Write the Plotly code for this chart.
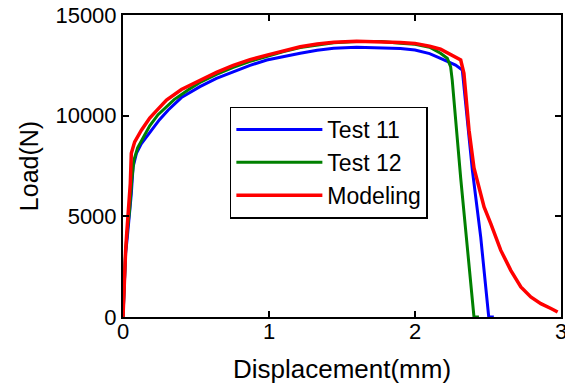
import plotly.graph_objects as go

# Test 11 (blue)
x_test11 = [0, 0.008, 0.018, 0.03, 0.041, 0.057, 0.069, 0.092, 0.125, 0.16, 0.2, 0.25, 0.31, 0.4,
            0.527, 0.64, 0.755, 0.87, 0.985, 1.1, 1.214, 1.33, 1.443, 1.6, 1.77, 1.9, 2.0, 2.1,
            2.175, 2.278, 2.324, 2.393, 2.45, 2.505, 2.54]
y_test11 = [0, 1500, 3170, 4000, 4810, 6130, 7460, 8130, 8600, 8950, 9350, 9800, 10280, 10900,
            11440, 11850, 12180, 12500, 12765, 12950, 13100, 13250, 13350, 13400, 13376, 13330,
            13260, 13080, 12850, 12516, 12270, 7290, 3980, 0, 0]

# Test 12 (green)
x_test12 = [0, 0.008, 0.018, 0.03, 0.045, 0.06, 0.075, 0.1, 0.14, 0.183, 0.24, 0.275, 0.35, 0.45,
            0.527, 0.64, 0.755, 0.87, 0.985, 1.1, 1.214, 1.33, 1.443, 1.6, 1.77, 1.9, 2.0, 2.1,
            2.175, 2.221, 2.244, 2.255, 2.313, 2.404, 2.438]
y_test12 = [0, 1800, 3300, 4300, 5300, 6800, 7800, 8400, 8950, 9500, 10050, 10300, 10800, 11300,
            11650, 12050, 12400, 12700, 12950, 13180, 13380, 13520, 13620, 13680, 13680, 13600,
            13545, 13400, 13100, 12850, 12430, 11770, 6900, 0, 0]

# Modeling (red)
x_model = [0, 0.008, 0.018, 0.026, 0.034, 0.05, 0.057, 0.08, 0.126, 0.183, 0.23, 0.298, 0.4, 0.527,
           0.64, 0.755, 0.87, 0.985, 1.1, 1.214, 1.33, 1.443, 1.6, 1.77, 1.9, 2.0, 2.1, 2.175,
           2.244, 2.313, 2.335, 2.347, 2.37, 2.404, 2.473, 2.519, 2.587, 2.656, 2.725, 2.793,
           2.862, 2.931, 2.977]
y_model = [0, 1800, 3300, 4200, 4970, 6630, 8130, 8700, 9280, 9880, 10250, 10775, 11300, 11770,
           12150, 12500, 12780, 13010, 13230, 13425, 13560, 13650, 13700, 13675, 13640, 13590,
           13450, 13300, 13050, 12765, 12100, 10940, 9280, 7400, 5470, 4640, 3320, 2320, 1490,
           995, 665, 420, 250]

x_ticks = [0, 1, 2, 3]
y_ticks = [0, 5000, 10000, 15000]

FONT = "Liberation Sans, Arial, sans-serif"

fig = go.Figure()
fig.add_trace(go.Scatter(x=x_test11, y=y_test11, mode="lines", name="Test 11",
                         line=dict(color="#0000ff", width=3)))
fig.add_trace(go.Scatter(x=x_test12, y=y_test12, mode="lines", name="Test 12",
                         line=dict(color="#008000", width=3)))
fig.add_trace(go.Scatter(x=x_model, y=y_model, mode="lines", name="Modeling",
                         line=dict(color="#ff0000", width=3.5)))

axis_common = dict(
    showgrid=False, zeroline=False, showline=True, linecolor="black", linewidth=2,
    mirror="ticks", ticks="inside", ticklen=6, tickwidth=1.5, tickcolor="black",
    tickfont=dict(family=FONT, size=22, color="black"), automargin=False,
)

fig.update_layout(
    width=565, height=392,
    margin=dict(l=123, r=4, t=15, b=75),
    paper_bgcolor="white", plot_bgcolor="white",
    font=dict(family=FONT, color="black"),
    xaxis=dict(range=[0, 3], tickvals=x_ticks, ticktext=[str(v) for v in x_ticks],
               ticklabeloverflow="allow", ticklabelstandoff=-6,
               title=dict(text="Displacement(mm)", font=dict(family=FONT, size=26), standoff=16),
               **axis_common),
    yaxis=dict(range=[0, 15000], tickvals=y_ticks, ticktext=[str(v) for v in y_ticks],
               title=dict(text="Load(N)", font=dict(family=FONT, size=25), standoff=10),
               **axis_common),
    legend=dict(x=0.244, y=0.697, xanchor="left", yanchor="top",
                bgcolor="white", bordercolor="black", borderwidth=1.5,
                font=dict(family=FONT, size=23, color="black"),
                itemwidth=86, entrywidth=105, entrywidthmode="pixels"),
)

fig.write_html("out.html")
